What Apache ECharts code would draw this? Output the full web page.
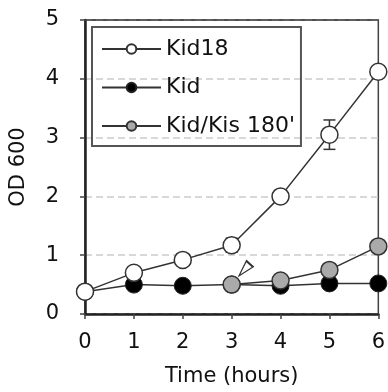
<!DOCTYPE html>
<html><head><meta charset="utf-8">
<script src="https://cdn.jsdelivr.net/npm/echarts@6/dist/echarts.min.js"></script>
<style>html,body{margin:0;padding:0;background:#fff}#c{width:388px;height:392px}</style>
</head><body><div id="c"></div>
<script>
var hours = [0, 1, 2, 3, 4, 5, 6];
var kid18 = [0.38, 0.70, 0.92, 1.17, 2.00, 3.05, 4.12];
var kid18Err = [0, 0, 0, 0.12, 0.10, 0.25, 0];
var kid = [0.38, 0.50, 0.48, 0.50, 0.48, 0.52, 0.52];
var kidKisHours = [3, 4, 5, 6];
var kidKis = [0.50, 0.57, 0.75, 1.15];
var arrowPoint = [3.26, 0.75];
var yTicks = [0, 1, 2, 3, 4, 5];
var yMax = 5;

var chart = echarts.init(document.getElementById('c'));
var font = 'DejaVu Sans, sans-serif';
function pairs(xs, ys){ return xs.map(function(x,i){return [x, ys[i]];}); }
var errData = hours.map(function(h,i){return [h, kid18[i]-kid18Err[i], kid18[i]+kid18Err[i]];}).filter(function(d){return d[2]-d[1]>0;});

chart.setOption({
  animation: false,
  grid: {left: 82, right: 7, top: 20, bottom: 75, show: true, borderColor: '#444', borderWidth: 1.5},
  legend: {
    orient: 'vertical', left: 92, top: 27, padding: [11, 6, 9, 9],
    borderColor: '#555', borderWidth: 2, itemGap: 16.5,
    itemWidth: 59, itemHeight: 12,
    textStyle: {fontFamily: font, fontSize: 22, lineHeight: 22, color: '#111'},
    data: ['Kid18', 'Kid', "Kid/Kis 180'"]
  },
  xAxis: {
    type: 'value', min: 0, max: 6, interval: 1,
    name: 'Time (hours)', nameLocation: 'middle', nameGap: 52,
    nameTextStyle: {fontFamily: font, fontSize: 21, color: '#111'},
    axisLine: {lineStyle: {color: '#222', width: 2.5}},
    axisTick: {show: true, length: 5, lineStyle: {color: '#444', width: 1.5}},
    axisLabel: {fontFamily: font, fontSize: 21, color: '#111', margin: 18},
    splitLine: {show: false}
  },
  yAxis: {
    type: 'value', min: 0, max: yMax, interval: 1,
    name: 'OD 600', nameLocation: 'middle', nameGap: 56,
    nameTextStyle: {fontFamily: font, fontSize: 21, color: '#111'},
    axisLine: {show: true, lineStyle: {color: '#222', width: 2.5}},
    axisTick: {show: true, length: 5, lineStyle: {color: '#444', width: 1.5}},
    axisLabel: {fontFamily: font, fontSize: 21, color: '#111', margin: 26,
      formatter: function(v){ return yTicks.indexOf(v) >= 0 ? String(v) : ''; }},
    splitLine: {show: true, lineStyle: {color: '#ccc', type: [7, 4], width: 1.5}}
  },
  series: [
    {
      name: 'Kid', type: 'line', data: pairs(hours, kid), z: 2,
      symbol: 'circle', symbolSize: 17,
      lineStyle: {color: '#333', width: 1.5},
      itemStyle: {color: '#000', borderColor: '#222', borderWidth: 1},
      markLine: {
        silent: true, symbol: 'none', label: {show: false},
        lineStyle: {color: '#444', width: 1.5, type: 'solid'},
        data: [{yAxis: yMax}]
      }
    },
    {
      name: "Kid/Kis 180'", type: 'line', data: pairs(kidKisHours, kidKis), z: 3,
      symbol: 'circle', symbolSize: 17,
      lineStyle: {color: '#333', width: 1.5},
      itemStyle: {color: '#aaa', borderColor: '#333', borderWidth: 1.5},
      markPoint: {
        symbol: 'triangle', symbolSize: [9, 16], symbolRotate: 138,
        itemStyle: {color: '#fff', borderColor: '#333', borderWidth: 1.5},
        label: {show: false},
        data: [{coord: arrowPoint}]
      }
    },
    {
      name: 'Kid18', type: 'line', data: pairs(hours, kid18), z: 4,
      symbol: 'circle', symbolSize: 17,
      lineStyle: {color: '#333', width: 1.5},
      itemStyle: {color: '#fff', borderColor: '#333', borderWidth: 1.5}
    },
    {
      type: 'custom', data: errData, z: 3,
      renderItem: function(params, api){
        var lo = api.coord([api.value(0), api.value(1)]);
        var hi = api.coord([api.value(0), api.value(2)]);
        var w = 6;
        var st = {stroke: '#333', lineWidth: 1.5};
        return {type: 'group', children: [
          {type: 'line', shape: {x1: lo[0], y1: lo[1], x2: hi[0], y2: hi[1]}, style: st},
          {type: 'line', shape: {x1: lo[0]-w, y1: lo[1], x2: lo[0]+w, y2: lo[1]}, style: st},
          {type: 'line', shape: {x1: hi[0]-w, y1: hi[1], x2: hi[0]+w, y2: hi[1]}, style: st}
        ]};
      }
    }
  ]
});
</script></body></html>
